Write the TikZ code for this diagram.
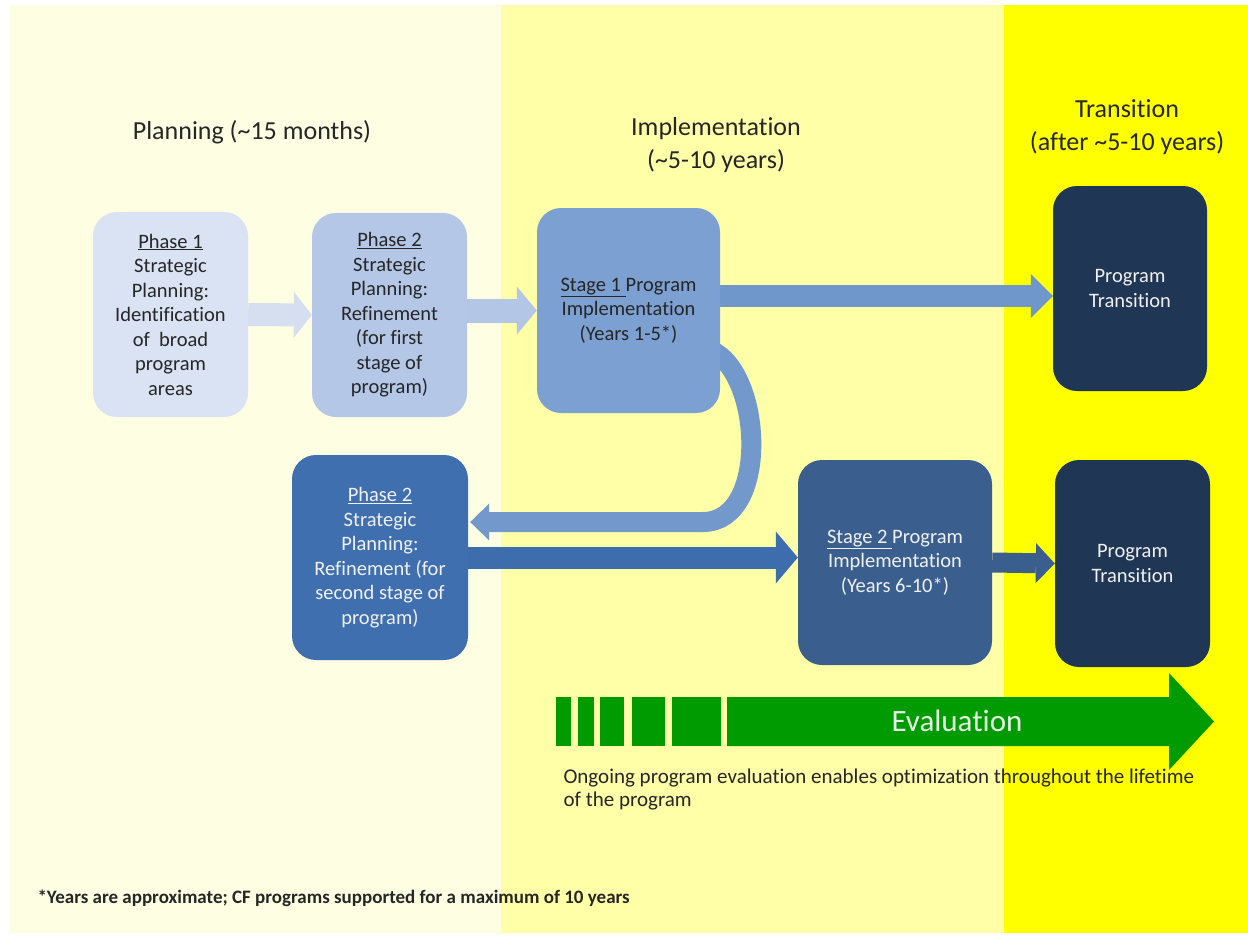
\documentclass[tikz,border=0pt]{standalone}
\usepackage{fontspec}
\setmainfont{Carlito}[Ligatures=NoCommon]
\usetikzlibrary{arrows.meta,calc}
\pgfdeclarelayer{panels}
\pgfdeclarelayer{arrowlayer}
\pgfsetlayers{panels,arrowlayer,main}
\definecolor{planbg}{HTML}{FEFEE3}
\definecolor{implbg}{HTML}{FFFFA8}
\definecolor{transbg}{HTML}{FFFF00}
\definecolor{cPone}{HTML}{DAE3F3}
\definecolor{cPtwoA}{HTML}{B4C7E7}
\definecolor{cSone}{HTML}{7CA0D2}
\definecolor{cTrans}{HTML}{1F3654}
\definecolor{cPtwoB}{HTML}{3F6FAF}
\definecolor{cStwo}{HTML}{3A5F8F}
\definecolor{aA}{HTML}{D5DFF0}
\definecolor{aB}{HTML}{B3C6E6}
\definecolor{aC}{HTML}{6F97CB}
\definecolor{aCurve}{HTML}{7399CC}
\definecolor{aD}{HTML}{3D6DAD}
\definecolor{aE}{HTML}{3A5E8E}
\definecolor{evalgreen}{HTML}{009B00}
\definecolor{evaltxt}{HTML}{E6F2E6}
\definecolor{txtdark}{HTML}{262626}
\definecolor{txtlight}{HTML}{F0F0F0}
\newcommand\boxfont{\fontsize{20.5}{24.5}\selectfont}
\newcommand\titlefont{\fontsize{26}{33}\selectfont}
\newcommand\evalfont{\fontsize{31}{36}\selectfont}
\newcommand\notefont{\fontsize{21}{23}\selectfont}
\newcommand\footfont{\fontsize{19}{22}\selectfont\bfseries}
\begin{document}
\begin{tikzpicture}[x=1pt,y=-1pt,
  box/.style={rounded corners=24pt, inner sep=2pt, align=center, font=\boxfont, text=txtdark},
  lightbox/.style={box, text=txtlight},
  title/.style={align=center, font=\titlefont, text=txtdark},
  arrA/.style={draw=aA, line width=23pt, -{Triangle[length=18pt,width=46pt,line width=0pt]}},
  arrB/.style={draw=aB, line width=24pt, -{Triangle[length=20pt,width=48pt,line width=0pt]}},
  arrC/.style={draw=aC, line width=22pt, -{Triangle[length=22pt,width=44pt,line width=0pt]}},
  arrCurve/.style={draw=aCurve, line width=20pt, -{Triangle[length=19pt,width=37pt,line width=0pt]}},
  arrD/.style={draw=aD, line width=22pt, -{Triangle[length=22pt,width=52pt,line width=0pt]}},
  arrE/.style={draw=aE, line width=20pt, -{Triangle[length=19pt,width=40pt,line width=0pt]}},
  bar/.style={fill=evalgreen}
]
\useasboundingbox (0,0) rectangle (1248,938);
\begin{pgfonlayer}{panels}
  \fill[white] (0,0) rectangle (1248,938);
  \fill[planbg] (10,5) rectangle (501,933);
  \fill[implbg] (501,5) rectangle (1004,933);
  \fill[transbg] (1004,5) rectangle (1248,933);
\end{pgfonlayer}

% titles
\node[title] (tplan) at (252,132) {Planning (\textasciitilde 15 months)};
\node[title] (timpl) at (716,145) {Implementation\\(\textasciitilde 5-10 years)};
\node[title] (ttrans) at (1127,127) {Transition\\(after \textasciitilde 5-10 years)};

% boxes
\node[box, fill=cPone, minimum width=155pt, minimum height=205pt] (p1) at (170.5,314.5)
  {\underline{Phase 1}\\Strategic\\Planning:\\Identification\\of\ \ broad\\program\\areas};
\node[box, fill=cPtwoA, minimum width=155pt, minimum height=204pt] (p2a) at (389.5,315)
  {\underline{Phase 2}\\Strategic\\Planning:\\Refinement\\(for first\\stage of\\program)};
\node[box, fill=cSone, minimum width=183pt, minimum height=205pt] (s1) at (628.5,310.5)
  {\underline{Stage 1\ }Program\\Implementation\\(Years 1-5*)};
\node[lightbox, fill=cTrans, minimum width=154pt, minimum height=205pt] (t1) at (1130,288.5)
  {Program\\Transition};
\node[lightbox, fill=cPtwoB, minimum width=176pt, minimum height=205pt] (p2b) at (380,557.5)
  {\underline{Phase 2}\\Strategic\\Planning:\\Refinement (for\\second stage of\\program)};
\node[lightbox, fill=cStwo, minimum width=194pt, minimum height=205pt] (s2) at (895,562.5)
  {\underline{Stage 2\ }Program\\Implementation\\(Years 6-10*)};
\node[lightbox, fill=cTrans, minimum width=155pt, minimum height=207pt] (t2) at (1132.5,563.5)
  {Program\\Transition};

% connectors
\draw[arrA] (p1.east) -- (p2a.west);
\draw[arrB] (p2a.east |- s1.west) -- (s1.west);
\draw[arrC] ($(s1.east |- t1.west)+(0,7.5)$) -- ($(t1.west)+(0,7.5)$);
\begin{pgfonlayer}{arrowlayer}
\draw[arrCurve] ($(s1.east)+(-15,38)$) .. controls (762,362) and (772,522) .. (703,522)
  -- ($(p2b.east)+(2,-35.5)$);
\end{pgfonlayer}
\draw[arrD] (p2b.east) -- (p2b.east -| s2.west);
\draw[arrE] (s2.east) -- (t2.west);

% evaluation arrow
\fill[bar] (556,697) rectangle (571,746);
\fill[bar] (578,697) rectangle (594,746);
\fill[bar] (600,697) rectangle (624,746);
\fill[bar] (632,697) rectangle (665,746);
\fill[bar] (672,697) rectangle (721,746);
\fill[evalgreen] (727,697) -- (1169,697) -- (1169,673) -- (1214,721.5) -- (1169,770)
  -- (1169,746) -- (727,746) -- cycle;
\node[font=\evalfont, text=evaltxt] (evtext) at (957,721) {Evaluation};

\node[anchor=west, align=left, font=\notefont, text=txtdark] (note) at (560,790)
  {Ongoing program evaluation enables optimization throughout the lifetime\\of the program};
\node[anchor=west, font=\footfont, text=txtdark] (foot) at (34,898)
  {*Years are approximate; CF programs supported for a maximum of 10 years};
\end{tikzpicture}
\end{document}
